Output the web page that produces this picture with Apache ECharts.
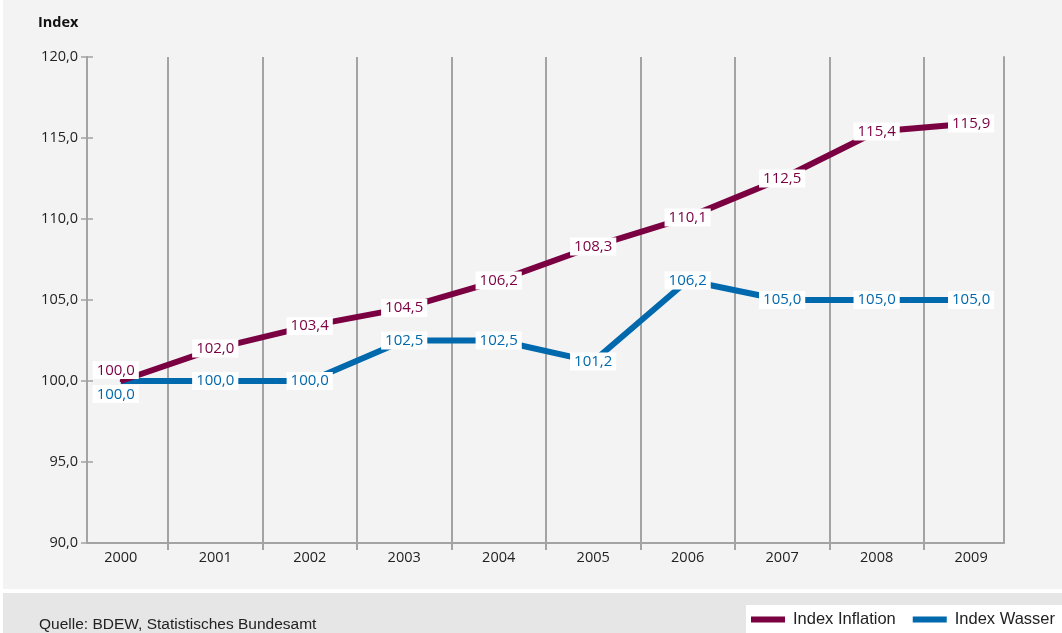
<!DOCTYPE html>
<html>
<head>
<meta charset="utf-8">
<script src="https://cdn.jsdelivr.net/npm/echarts@6/dist/echarts.min.js"></script>
<style>
  html, body { margin: 0; padding: 0; background: #ffffff; }
  #chart { width: 1062px; height: 633px; }
</style>
</head>
<body>
<div id="chart"></div>
<script>
// ---- data ----
const years = ['2000', '2001', '2002', '2003', '2004', '2005', '2006', '2007', '2008', '2009'];
const inflation = [100.0, 102.0, 103.4, 104.5, 106.2, 108.3, 110.1, 112.5, 115.4, 115.9];
const wasser = [100.0, 100.0, 100.0, 102.5, 102.5, 101.2, 106.2, 105.0, 105.0, 105.0];
const seriesNames = ['Index Inflation', 'Index Wasser'];
const yMin = 90, yMax = 120, yStep = 5;
const yTitle = 'Index';
const sourceText = 'Quelle: BDEW, Statistisches Bundesamt';

// ---- build ----
const idx = years.map((_, i) => i);
const boundaries = years.slice(1).map((_, i) => i + 0.5);
const fmt = v => v.toFixed(1).replace('.', ',');
const NUM_FONT = "'Open Sans', 'DejaVu Sans', sans-serif";
const COND_FONT = "'Liberation Sans Narrow', 'Liberation Sans', sans-serif";
const C_INF = '#7a0042';
const C_WAS = '#0068ac';
const GRID_C = '#a3a3a3';

function makeData(arr, which) {
  return arr.map((v, i) => {
    const d = { value: [i, v] };
    if (i === 0) {
      d.label = which === 0
        ? { position: 'top', distance: 1, offset: [-5, 0] }
        : { position: 'bottom', distance: 3, offset: [-5, 0] };
    }
    return d;
  });
}

function labelStyle(color) {
  return {
    show: true,
    position: 'inside',
    formatter: p => fmt(p.value[1]),
    color: color,
    fontFamily: NUM_FONT,
    fontSize: 15,
    backgroundColor: '#ffffff',
    padding: [2, 4, 1, 4]
  };
}

const yBase = {
  type: 'value', min: yMin, max: yMax, interval: yStep,
  splitLine: { show: false }
};

const chart = echarts.init(document.getElementById('chart'), null, { renderer: 'canvas' });
chart.setOption({
  animation: false,
  backgroundColor: 'transparent',
  graphic: [
    { type: 'rect', z: -10, silent: true, shape: { x: 3, y: 0, width: 1059, height: 589 }, style: { fill: '#f3f3f3' } },
    { type: 'rect', z: -10, silent: true, shape: { x: 3, y: 593, width: 1059, height: 40 }, style: { fill: '#e6e6e6' } }
  ],
  title: [
    { text: yTitle, left: 33, top: 10, textStyle: { fontFamily: NUM_FONT, fontSize: 14.5, fontWeight: 'bold', color: '#111' } },
    { text: sourceText, left: 34, top: 612, textStyle: { fontFamily: COND_FONT, fontSize: 15.5, fontWeight: 'normal', color: '#222' } }
  ],
  legend: {
    right: 0, bottom: 0,
    backgroundColor: '#ffffff',
    padding: [6, 7, 5, 5],
    itemGap: 17,
    itemWidth: 34, itemHeight: 6,
    icon: 'rect',
    data: seriesNames,
    textStyle: { fontFamily: COND_FONT, fontSize: 16.5, color: '#222', padding: [0, 0, 0, 3] }
  },
  grid: { left: 87, right: 58, top: 57, bottom: 90 },
  xAxis: [{
    type: 'value',
    min: -0.357, max: 9.348,
    axisLine: { show: true, onZero: false, lineStyle: { color: GRID_C, width: 2 } },
    axisTick: { show: true, customValues: boundaries, length: 7, lineStyle: { color: GRID_C, width: 2 } },
    axisLabel: { customValues: idx, formatter: v => years[Math.round(v)], margin: 7, fontFamily: NUM_FONT, fontSize: 14.5, color: '#222' },
    splitLine: { show: true, lineStyle: { color: GRID_C, width: 2 } }
  }],
  yAxis: [Object.assign({}, yBase, {
    position: 'left',
    axisLine: { show: true, onZero: false, lineStyle: { color: GRID_C, width: 2 } },
    axisTick: { show: true, length: 6, lineStyle: { color: GRID_C, width: 1.5 } },
    axisLabel: { formatter: v => fmt(v), margin: 9, fontFamily: NUM_FONT, fontSize: 14.5, color: '#222' }
  }), Object.assign({}, yBase, {
    position: 'left',
    axisLine: { show: true, onZero: false, lineStyle: { color: GRID_C, width: 2 } },
    axisTick: { show: true, inside: true, length: 6, lineStyle: { color: GRID_C, width: 1.5 } },
    axisLabel: { show: false }
  }), Object.assign({}, yBase, {
    position: 'right',
    axisLine: { show: true, onZero: false, lineStyle: { color: GRID_C, width: 2 } },
    axisTick: { show: false },
    axisLabel: { show: false }
  })],
  series: [{
    name: seriesNames[0], type: 'line',
    data: makeData(inflation, 0),
    symbol: 'circle', symbolSize: 2, showSymbol: true,
    itemStyle: { color: C_INF },
    lineStyle: { color: C_INF, width: 6 },
    label: labelStyle(C_INF),
    z: 3
  }, {
    name: seriesNames[1], type: 'line',
    data: makeData(wasser, 1),
    symbol: 'circle', symbolSize: 2, showSymbol: true,
    itemStyle: { color: C_WAS },
    lineStyle: { color: C_WAS, width: 6 },
    label: labelStyle(C_WAS),
    z: 2
  }]
});
</script>
</body>
</html>
